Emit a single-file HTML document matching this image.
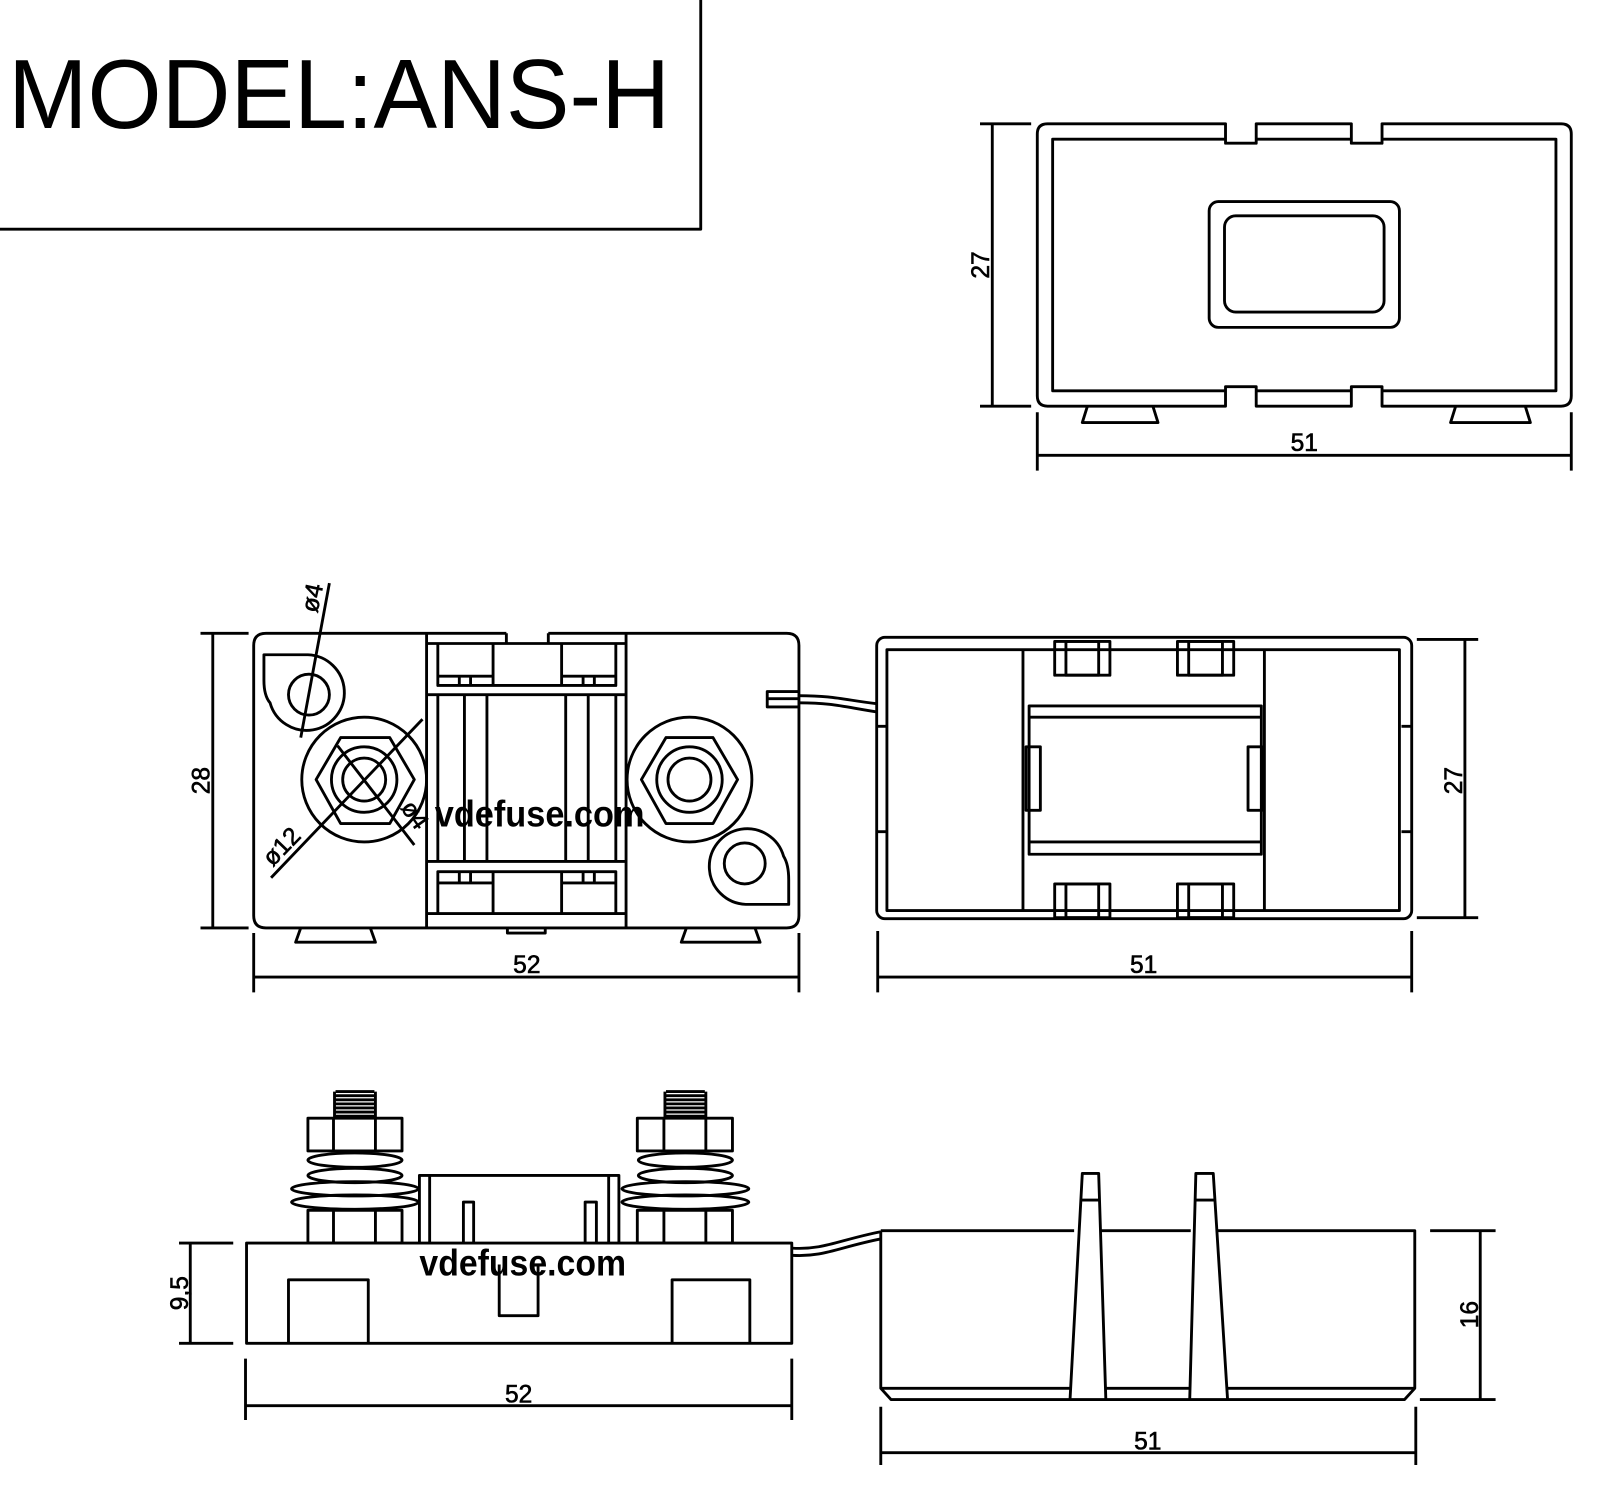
<!DOCTYPE html>
<html><head><meta charset="utf-8"><style>
html,body{margin:0;padding:0;background:#fff;}
svg{display:block}
text{font-family:"Liberation Sans",sans-serif;fill:#000}
</style></head><body>
<svg width="1603" height="1509" viewBox="0 0 1567 1475" preserveAspectRatio="none" xmlns="http://www.w3.org/2000/svg">
<g fill="none" stroke="#000" stroke-width="2.8" stroke-linejoin="round">
<path d="M685,0 V224 H0"/>

<path d="M1024,121 H1198 V140 H1228 V121 H1321 V140 H1351 V121 H1526 Q1536,121 1536,131 V387 Q1536,397 1526,397 H1351 V378 H1321 V397 H1228 V378 H1198 V397 H1024 Q1014,397 1014,387 V131 Q1014,121 1024,121 Z"/>
<path d="M1198,136 H1029 V382 H1198 M1228,382 H1321 M1351,382 H1521 V136 H1351 M1321,136 H1228"/>
<rect x="1182" y="197" width="186" height="123" rx="9"/>
<rect x="1197" y="211" width="156" height="94" rx="11"/>
<path d="M1063,397 L1058,413 H1132 L1127,397"/>
<path d="M1423,397 L1418,413 H1496 L1491,397"/>
<path d="M970,121 V397 M958,121 H1008 M958,397 H1008"/>
<path d="M1014,445 H1536 M1014,403 V460 M1536,403 V460"/>

<path d="M495,619 H260 Q248,619 248,631 V895 Q248,907 260,907 H769 Q781,907 781,895 V631 Q781,619 769,619 H536"/>
<path d="M417,619 V907 M612,619 V907 M495,619 V629 M536,619 V629 M417,629 H612"/>
<path d="M428,629 V670 H602 V629 M482,629 V670 M549,629 V670 M428,661 H482 M549,661 H602 M449,661 V670 M460,661 V670 M570,661 V670 M581,661 V670"/>
<path d="M417,679 H612 M417,842 H612"/>
<path d="M428,679 V842 M454,679 V842 M476,679 V842 M553,679 V842 M575,679 V842 M602,679 V842"/>
<path d="M428,893 V852 H602 V893 M482,852 V893 M549,852 V893 M428,863 H482 M549,863 H602 M449,852 V863 M460,852 V863 M570,852 V863 M581,852 V863 M417,893 H612"/>
<path d="M496,907 V912 H533 V907"/>
<path d="M294,907 L289,921 H367 L362,907"/>
<path d="M671,907 L666,921 H743 L738,907"/>
<path d="M301,640 H258 V665 Q258,680 264,687 A37,37 0 1 0 301,640 Z"/>
<circle cx="302" cy="679" r="20"/>
<path d="M729,884 H771 V860 Q771,845 766,837 A37,37 0 1 0 729,884 Z"/>
<circle cx="728" cy="844" r="20"/>
<circle cx="356" cy="762" r="61"/>
<path d="M309,762 L333,721 H381 L405,762 L381,805 H333 Z"/>
<circle cx="356" cy="762" r="32"/>
<circle cx="356" cy="762" r="21"/>
<path d="M265,858 L413,703 M330,729 L405,826 M322,570 L294,721"/>
<circle cx="674" cy="762" r="61"/>
<path d="M627,762 L651,721 H697 L721,762 L697,805 H651 Z"/>
<circle cx="674" cy="762" r="32"/>
<circle cx="674" cy="762" r="21"/>
<path d="M781,676 H750 V691 H781 M750,683 H781"/>
<path d="M781,680 C815,680 825,684 858,688 M781,687 C815,687 825,691 858,696"/>
<path d="M208,619 V907 M196,619 H243 M196,907 H243"/>
<path d="M248,955 H781 M248,912 V970 M781,912 V970"/>

<rect x="857" y="623" width="523" height="275" rx="8"/>
<rect x="867" y="635" width="501" height="255"/>
<path d="M857,710 H867 M857,813 H867 M1370,710 H1380 M1370,813 H1380"/>
<path d="M1000,635 V890 M1236,635 V890"/>
<rect x="1031" y="627" width="54" height="33"/><rect x="1042" y="627" width="32" height="33"/>
<rect x="1151" y="627" width="55" height="33"/><rect x="1162" y="627" width="33" height="33"/>
<rect x="1031" y="864" width="54" height="33"/><rect x="1042" y="864" width="32" height="33"/>
<rect x="1151" y="864" width="55" height="33"/><rect x="1162" y="864" width="33" height="33"/>
<rect x="1006" y="690" width="227" height="145"/>
<path d="M1006,701 H1233 M1006,823 H1233"/>
<rect x="1003" y="730" width="14" height="62"/>
<rect x="1220" y="730" width="14" height="62"/>
<path d="M1432,625 V897 M1385,625 H1445 M1385,897 H1445"/>
<path d="M858,955 H1380 M858,910 V970 M1380,910 V970"/>

<rect x="241" y="1215" width="533" height="98"/>
<path d="M282,1313 V1251 H360 V1313 M657,1313 V1251 H733 V1313"/>
<path d="M488,1236 V1286 H526 V1236"/>
<rect x="301" y="1183" width="92" height="32"/><path d="M326,1183 V1215 M367,1183 V1215"/>
<rect x="301" y="1093" width="92" height="32"/><path d="M326,1093 V1125 M367,1093 V1125"/>
<ellipse cx="347" cy="1134" rx="46" ry="7"/>
<ellipse cx="347" cy="1149" rx="46" ry="7"/>
<ellipse cx="347" cy="1162" rx="62" ry="7"/>
<ellipse cx="347" cy="1175" rx="62" ry="7"/>
<path d="M328,1067 H366 M327,1071 H367 M327,1075 H367 M327,1079 H367 M327,1083 H367 M327,1087 H367 M327,1091 H367 M327,1067 V1093 M367,1067 V1093"/>
<rect x="623" y="1183" width="93" height="32"/><path d="M649,1183 V1215 M690,1183 V1215"/>
<rect x="623" y="1093" width="93" height="32"/><path d="M649,1093 V1125 M690,1093 V1125"/>
<ellipse cx="670" cy="1134" rx="46" ry="7"/>
<ellipse cx="670" cy="1149" rx="46" ry="7"/>
<ellipse cx="670" cy="1162" rx="62" ry="7"/>
<ellipse cx="670" cy="1175" rx="62" ry="7"/>
<path d="M651,1067 H689 M650,1071 H690 M650,1075 H690 M650,1079 H690 M650,1083 H690 M650,1087 H690 M650,1091 H690 M650,1067 V1093 M690,1067 V1093"/>
<path d="M410,1215 V1149 H605 V1215 M420,1149 V1215 M595,1149 V1215"/>
<path d="M453,1215 V1175 H463 V1215 M572,1215 V1175 H583 V1215"/>
<path d="M774,1220 C805,1222 820,1212 861,1204 M774,1227 C805,1229 820,1219 861,1211"/>
<path d="M186,1215 V1313 M175,1215 H228 M175,1313 H228"/>
<path d="M240,1374 H774 M240,1328 V1388 M774,1328 V1388"/>

<path d="M861,1203 H1050 M1076,1203 H1164 M1189,1203 H1383 V1357 L1373,1368 H871 L861,1357 V1203"/>
<path d="M861,1357 H1047 M1080,1357 H1164 M1200,1357 H1383"/>
<path d="M1046,1368 L1058,1147 H1074 L1081,1368 M1057,1173 H1075"/>
<path d="M1163,1368 L1169,1147 H1186 L1200,1368 M1168,1173 H1187"/>
<path d="M1447,1203 V1368 M1398,1203 H1462 M1388,1368 H1462"/>
<path d="M861,1420 H1384 M861,1375 V1432 M1384,1375 V1432"/>
</g>

<text x="8" y="125" font-size="96" textLength="647" lengthAdjust="spacingAndGlyphs">MODEL:ANS-H</text>
<g font-size="24" stroke="#000" stroke-width="0.6">
<text x="1275" y="441" text-anchor="middle">51</text>
<text transform="translate(967,259) rotate(-90)" text-anchor="middle">27</text>
<text x="515" y="951" text-anchor="middle">52</text>
<text transform="translate(205,763) rotate(-90)" text-anchor="middle">28</text>
<text x="1118" y="951" text-anchor="middle">51</text>
<text transform="translate(1429,763) rotate(-90)" text-anchor="middle">27</text>
<text x="507" y="1371" text-anchor="middle">52</text>
<text transform="translate(184,1264) rotate(-90)" text-anchor="middle">9,5</text>
<text transform="translate(1445,1285) rotate(-90)" text-anchor="middle">16</text>
<text x="1122" y="1417" text-anchor="middle">51</text>
<text transform="translate(313,586) rotate(-78)" text-anchor="middle">ø4</text>
<text transform="translate(281,833) rotate(-46)" text-anchor="middle">ø12</text>
<text transform="translate(399,801) rotate(55)" text-anchor="middle">ø4</text>
</g>
<text x="425" y="808" font-size="36" font-weight="bold" font-family="Liberation Sans Narrow, Liberation Sans, sans-serif" textLength="205" lengthAdjust="spacingAndGlyphs">vdefuse.com</text>
<text x="410" y="1247" font-size="36" font-weight="bold" font-family="Liberation Sans Narrow, Liberation Sans, sans-serif" textLength="202" lengthAdjust="spacingAndGlyphs">vdefuse.com</text>
</svg>
</body></html>
